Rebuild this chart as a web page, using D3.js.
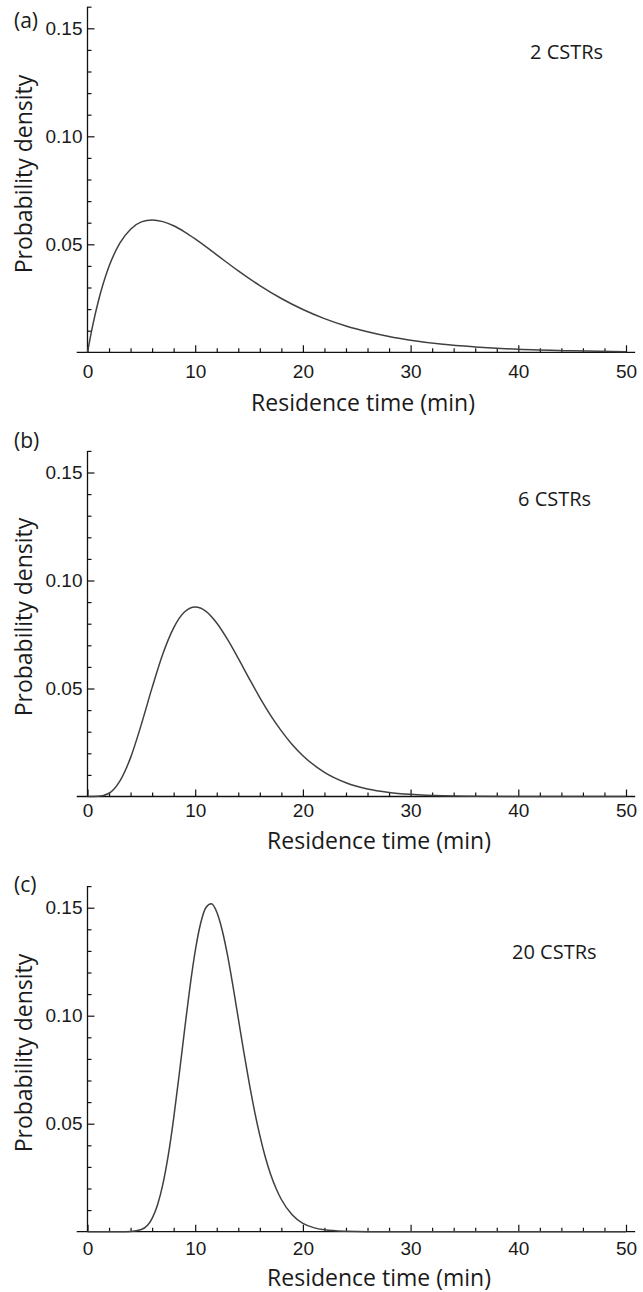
<!DOCTYPE html>
<html>
<head>
<meta charset="utf-8">
<script src="https://cdn.jsdelivr.net/npm/d3@7"></script>
<style>
  html, body { margin: 0; padding: 0; background: #fff; }
  svg { display: block; font-family: "Open Sans", "Noto Sans", sans-serif; }
  .axis path { display: none; }
  .axis line { stroke: #111; stroke-width: 1.2; }
  .axis text { fill: #1a1a1a; font-size: 19px; }
</style>
</head>
<body>
<svg id="chart"></svg>
<script>
// values (minutes, probability density)
const timeA = [0, 0.5, 1, 2, 3, 4, 5, 6, 7, 8, 9, 10, 12, 14, 16, 18, 20, 22, 24, 26, 28, 30, 33, 36, 40, 45, 50];
const densityA = [0, 0.0128, 0.0235, 0.0398, 0.0505, 0.0570, 0.0604, 0.0613, 0.0605, 0.0586, 0.0558, 0.0525,
    0.0451, 0.0377, 0.0309, 0.0249, 0.0198, 0.0156, 0.0122, 0.0095, 0.0073, 0.0056, 0.0037, 0.0025, 0.0014, 0.0007, 0.0003];

const timeB = [0, 1, 2, 3, 4, 5, 6, 7, 8, 9, 10, 11, 12, 13, 14, 15, 16, 17, 18, 19, 20, 22, 24, 26, 28, 30, 33, 36, 40, 50];
const densityB = [0, 0.0001, 0.0015, 0.0071, 0.0180, 0.0334, 0.0504, 0.0661, 0.0781, 0.0854, 0.0877, 0.0857,
    0.0803, 0.0727, 0.0639, 0.0547, 0.0458, 0.0376, 0.0304, 0.0241, 0.0189, 0.0112, 0.0064, 0.0035, 0.0019,
    0.0010, 0.0003, 0.0001, 0, 0];

const timeC = [0, 3, 4, 5, 6, 6.5, 7, 7.5, 8, 8.5, 9, 9.5, 10, 10.5, 11, 11.5, 12, 12.5, 13, 13.5, 14, 14.5,
    15, 15.5, 16, 16.5, 17, 17.5, 18, 19, 20, 21, 22, 24, 26, 30, 50];
const densityC = [0, 0, 0.0001, 0.0010, 0.0062, 0.0124, 0.0220, 0.0354, 0.0525, 0.0722, 0.0929, 0.1128, 0.1299,
    0.1427, 0.1501, 0.1518, 0.1480, 0.1397, 0.1280, 0.1139, 0.0988, 0.0836, 0.0692, 0.0561, 0.0446, 0.0347,
    0.0266, 0.0201, 0.0149, 0.0079, 0.0039, 0.0019, 0.0009, 0.0002, 0, 0, 0];

const panelLetters = ['(a)', '(b)', '(c)'];
const tankLabels = ['2 CSTRs', '6 CSTRs', '20 CSTRs'];
const xMajorTicks = [0, 10, 20, 30, 40, 50];
const xMinorTicks = [2, 4, 6, 8, 12, 14, 16, 18, 22, 24, 26, 28, 32, 34, 36, 38, 42, 44, 46, 48];
const yMajorTicks = [0.05, 0.10, 0.15];
const yMinorTicks = [0.01, 0.02, 0.03, 0.04, 0.06, 0.07, 0.08, 0.09, 0.11, 0.12, 0.13, 0.14, 0.16];
const xTitle = 'Residence time (min)';
const yTitle = 'Probability density';

// layout of each panel (pixel positions only)
const layout = [
    { axisY: 352.3, labelPad: 12.5, titleY: 411, titleX: 363, yTitleY: 174, letterY: 28, tankX: 530, tankY: 59 },
    { axisY: 796.5, labelPad: 7, titleY: 849, titleX: 379, yTitleY: 617, letterY: 448, tankX: 518, tankY: 505.5 },
    { axisY: 1231.7, labelPad: 10, titleY: 1285.5, titleX: 379, yTitleY: 1053, letterY: 892, tankX: 512, tankY: 959 }
];

const series = [
    timeA.map((t, i) => ({ t: t, v: densityA[i] })),
    timeB.map((t, i) => ({ t: t, v: densityB[i] })),
    timeC.map((t, i) => ({ t: t, v: densityC[i] }))
];

const W = 643, H = 1292;
const svg = d3.select('#chart').attr('width', W).attr('height', H);

let x = d3.scaleLinear()
    .domain([0, 50])
    .range([87.5, 626]);

series.forEach(function (data, p) {
    let L = layout[p];
    let y = d3.scaleLinear()
        .domain([0, 0.16])
        .range([L.axisY, L.axisY - 345.6]);

    let g = svg.append('g');

    // x axis: baseline, minor and major ticks pointing up
    g.append('line')
        .attr('x1', x(-1)).attr('x2', x(50.85))
        .attr('y1', L.axisY).attr('y2', L.axisY)
        .attr('stroke', '#111').attr('stroke-width', 1.3);

    g.append('g')
        .attr('class', 'axis')
        .attr('transform', 'translate(0,' + L.axisY + ')')
        .call(d3.axisBottom(x).tickValues(xMinorTicks).tickSizeInner(-4).tickSizeOuter(0).tickFormat(''));

    g.append('g')
        .attr('class', 'axis')
        .attr('transform', 'translate(0,' + L.axisY + ')')
        .call(d3.axisBottom(x).tickValues(xMajorTicks).tickSizeInner(-7).tickSizeOuter(0)
            .tickPadding(L.labelPad).tickFormat(d3.format('d')));

    // y axis: line, ticks pointing right
    g.append('line')
        .attr('x1', x(0)).attr('x2', x(0))
        .attr('y1', L.axisY).attr('y2', y(0.16))
        .attr('stroke', '#111').attr('stroke-width', 1.3);

    g.append('g')
        .attr('class', 'axis')
        .attr('transform', 'translate(' + x(0) + ',0)')
        .call(d3.axisLeft(y).tickValues(yMinorTicks).tickSizeInner(-4).tickSizeOuter(0).tickFormat(''));

    g.append('g')
        .attr('class', 'axis')
        .attr('transform', 'translate(' + x(0) + ',0)')
        .call(d3.axisLeft(y).tickValues(yMajorTicks).tickSizeInner(-7).tickSizeOuter(0)
            .tickPadding(5).tickFormat(d3.format('.2f')));

    // curve
    let line = d3.line()
        .x(function (d) { return x(d.t); })
        .y(function (d) { return y(d.v); })
        .curve(d3.curveMonotoneX);

    g.append('path')
        .datum(data)
        .attr('fill', 'none')
        .attr('stroke', '#404040')
        .attr('stroke-width', 1.5)
        .attr('d', line);

    // titles and labels
    g.append('text')
        .attr('x', L.titleX)
        .attr('y', L.titleY)
        .attr('text-anchor', 'middle')
        .style('font-size', '23px')
        .attr('fill', '#1a1a1a')
        .text(xTitle);

    g.append('text')
        .attr('transform', 'translate(32,' + L.yTitleY + ') rotate(-90)')
        .attr('text-anchor', 'middle')
        .style('font-size', '23px')
        .attr('fill', '#1a1a1a')
        .text(yTitle);

    g.append('text')
        .attr('x', 14)
        .attr('y', L.letterY)
        .style('font-size', '21px')
        .attr('fill', '#1a1a1a')
        .text(panelLetters[p]);

    g.append('text')
        .attr('x', L.tankX)
        .attr('y', L.tankY)
        .style('font-size', '20px')
        .attr('fill', '#1a1a1a')
        .text(tankLabels[p]);
});
</script>
</body>
</html>
